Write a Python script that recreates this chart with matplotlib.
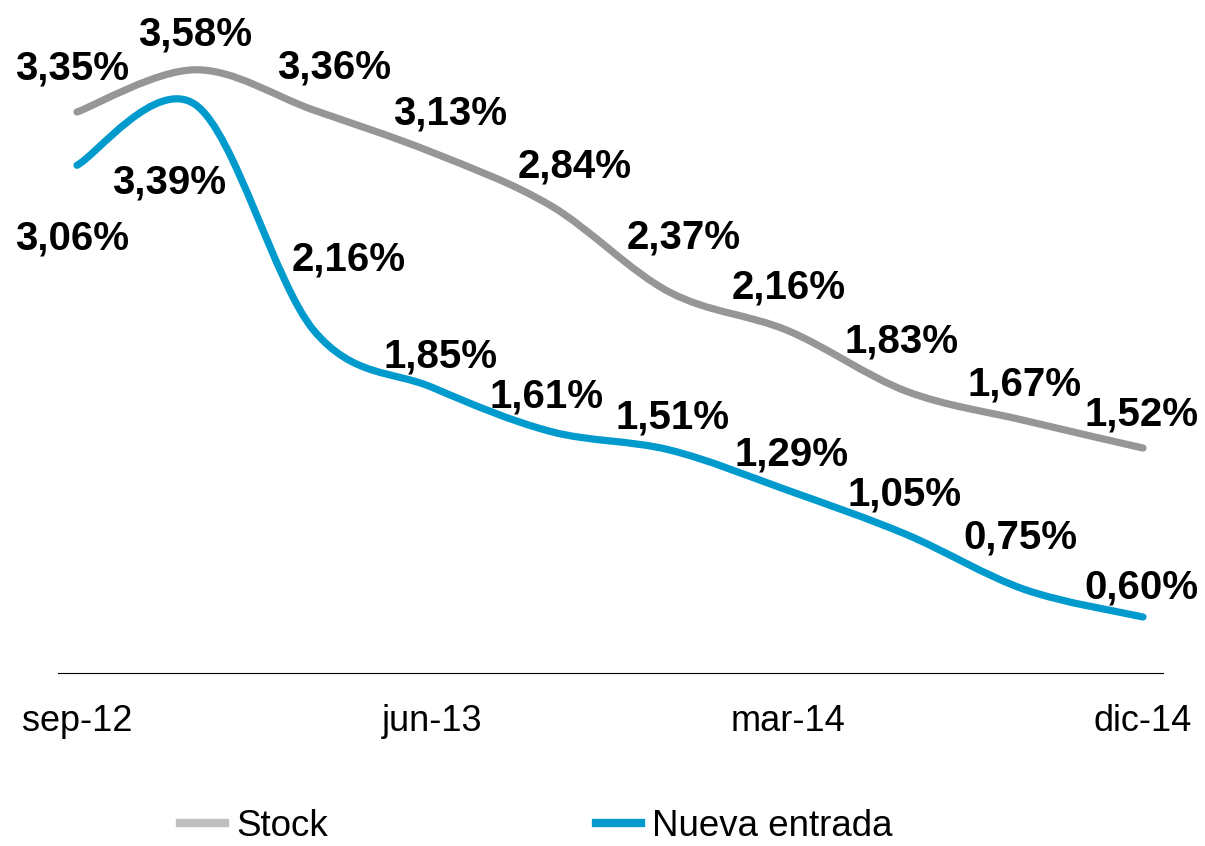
import matplotlib
matplotlib.use("Agg")
import matplotlib.pyplot as plt
from matplotlib.path import Path
from matplotlib.patches import PathPatch
from matplotlib.lines import Line2D
import numpy as np

plt.rcParams['font.family'] = ['Liberation Sans', 'DejaVu Sans']

# ---- data ----
periods = ["sep-12", "dic-12", "mar-13", "jun-13", "sep-13", "dic-13",
           "mar-14", "jun-14", "sep-14", "dic-14"]
stock = [3.35, 3.58, 3.36, 3.13, 2.84, 2.37, 2.16, 1.83, 1.67, 1.52]
nueva = [3.06, 3.39, 2.16, 1.85, 1.61, 1.51, 1.29, 1.05, 0.75, 0.60]
tick_labels = ["sep-12", "jun-13", "mar-14", "dic-14"]
tick_idx = [0, 3, 6, 9]
series_names = ["Stock", "Nueva entrada"]

# label offsets (pixels: dx right, dy down from point to text baseline)
stock_off = [(-4.5, -32), (0, -24), (20.6, -32), (17.7, -27.4), (24.2, -28.6),
             (14.8, -43.9), (0.9, -32.5), (-4.6, -39.1), (0.5, -25.5), (-1, -23)]
nueva_off = [(-4.5, 84.7), (-25.9, 89.3), (35.1, -60.5), (8.2, -20.4), (-4.3, -24.5),
             (3.3, -21.8), (3.9, -25.2), (-1.1, -29.3), (-4.5, -41.4), (-1.5, -18.9)]

GRAY = "#969696"
GRAY_LEG = "#BFBFBF"
BLUE = "#009ACD"

W, H = 1205, 846
fig = plt.figure(figsize=(W / 100, H / 100), dpi=100)
ax = fig.add_axes([58 / W, 1 - 673 / H, (1163 - 58) / W, (673 - 11) / H])
ax.set_xlim(-0.1604, 9.169)
ax.set_ylim(0.295, 3.9)


def smooth_path(xs, ys):
    pts = np.column_stack([xs, ys]).astype(float)
    n = len(pts)
    verts = [pts[0]]
    codes = [Path.MOVETO]
    for i in range(n - 1):
        p0 = pts[i - 1] if i > 0 else pts[i]
        p1 = pts[i]
        p2 = pts[i + 1]
        p3 = pts[i + 2] if i + 2 < n else pts[i + 1]
        c1 = p1 + (p2 - p0) / 6.0
        c2 = p2 - (p3 - p1) / 6.0
        verts += [c1, c2, p2]
        codes += [Path.CURVE4] * 3
    return Path(verts, codes)


x = np.arange(len(periods))
for vals, col in [(stock, GRAY), (nueva, BLUE)]:
    patch = PathPatch(smooth_path(x, vals), facecolor="none", edgecolor=col,
                      lw=5.2, capstyle="round", joinstyle="round", zorder=3)
    ax.add_patch(patch)


def fmt(v):
    return f"{v:.2f}".replace(".", ",") + "%"


for vals, offs in [(stock, stock_off), (nueva, nueva_off)]:
    for i, v in enumerate(vals):
        dx, dy = offs[i]
        ax.annotate(fmt(v), (x[i], v), xytext=(dx * 0.72, -dy * 0.72),
                    textcoords="offset points", ha="center", va="baseline",
                    fontsize=29, fontweight="bold", color="black", zorder=4,
                    annotation_clip=False)

for s in ["top", "left", "right"]:
    ax.spines[s].set_visible(False)
ax.spines["bottom"].set_color("black")
ax.spines["bottom"].set_linewidth(0.8)
ax.set_yticks([])
ax.set_xticks(tick_idx)
ax.set_xticklabels(tick_labels, fontsize=26)
ax.tick_params(axis="x", length=0, pad=22)

handles = [Line2D([0], [0], color=GRAY_LEG, lw=6),
           Line2D([0], [0], color=BLUE, lw=6)]
fig.legend(handles, series_names, loc="center left", ncol=2,
           bbox_to_anchor=(180 / W, 1 - 826 / H), frameon=False, fontsize=26.5,
           handlelength=1.22, handletextpad=0.3, columnspacing=7.3,
           borderpad=0, borderaxespad=0)

fig.savefig("out.png", dpi=100, facecolor="white")
